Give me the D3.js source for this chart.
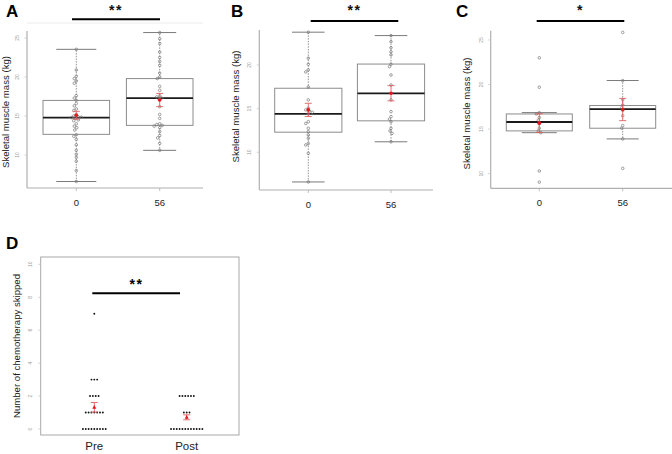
<!DOCTYPE html>
<html><head><meta charset="utf-8">
<script src="https://cdn.jsdelivr.net/npm/d3@7"></script>
<style>
html,body{margin:0;padding:0;background:#fff;}
svg{display:block;font-family:"Liberation Sans",Arial,sans-serif;}
</style></head>
<body><svg id="c" width="672" height="454"></svg>
<script>
// ---------- DATA ----------
const groups = ["0", "56"];
const groupsD = ["Pre", "Post"];

// Panel A
const ptsA0 = [23.55,20.9,20.1,19.8,19.5,19.2,17.6,17.3,17.0,16.6,16.3,15.9,15.7,15.2,15.0,14.9,14.85,14.8,14.7,14.5,14.4,14.0,13.7,13.5,13.2,12.6,12.4,12.0,11.3,10.6,10.1,9.7,9.2,8.0,6.6];
const ptsA56 = [25.7,24.9,24.3,23.2,22.5,22.0,21.5,20.5,20.0,19.8,18.8,18.3,17.6,17.45,17.3,17.1,16.2,15.2,14.7,14.0,13.9,13.8,13.7,13.5,13.0,12.5,12.2,11.5,10.6];
const boxA0 = [6.6, 12.65, 14.8, 17.0, 23.55];
const boxA56 = [10.6, 13.8, 17.3, 19.8, 25.7];
const meanA = [15.1, 17.05];
const semA = [0.5, 0.85];

// Panel B
const ptsB0 = [23.75,20.77,20.08,19.43,19.2,17.48,16.0,15.04,14.85,14.73,14.58,14.4,13.5,13.3,12.75,12.36,11.98,11.6,11.0,10.84,9.88,6.6];
const ptsB56 = [23.36,22.67,21.98,21.5,21.15,20.08,19.8,18.85,17.7,16.0,14.65,14.08,13.8,13.5,12.75,12.44,12.17,11.2];
const boxB0 = [6.6, 12.3, 14.4, 17.33, 23.75];
const boxB56 = [11.2, 13.6, 16.75, 20.1, 23.36];
const meanB = [14.85, 16.76];
const semB = [0.76, 0.87];

// Panel C
const ptsC0 = [23.0,19.7,16.85,16.7,16.3,16.0,15.6,15.1,14.8,14.6,10.3,9.05];
const ptsC56 = [25.85,20.45,18.3,17.7,17.4,17.1,16.5,15.4,15.1,13.9,10.6];
const boxC0 = [14.6, 14.8, 15.8, 16.7, 16.85];
const boxC56 = [13.9, 15.1, 17.25, 17.65, 20.45];
const meanC = [15.67, 17.2];
const semC = [1.05, 1.25];

// Panel D
const ptsPre = [0,0,0,0,0,0,0,0,0,1,1,1,1,1,1,1,2,2,2,2,3,3,3,7];
const ptsPost = [0,0,0,0,0,0,0,0,0,0,0,0,1,1,1,2,2,2,2,2,2];
const meanD = [1.32, 0.71];
const semD = [0.29, 0.15];

const ticksABC = [10, 15, 20, 25];
const ticksD = [0, 2, 4, 6, 8, 10];

// ---------- DRAW ----------
const svg = d3.select("#c");

function swarm(vals, y, cx, r) {
  const sorted = vals.map(v => ({v, y: y(v)})).sort((a, b) => a.y - b.y);
  const placed = [];
  sorted.forEach(p => {
    let k = 0, x = cx;
    while (true) {
      const off = (k % 2 === 0 ? 1 : -1) * Math.ceil(k / 2) * 0.5;
      x = cx + off;
      const ok = placed.every(q => (q.x - x) ** 2 + (q.y - p.y) ** 2 >= (2 * r) ** 2 * 0.9);
      if (ok) break;
      k++;
    }
    p.x = x; placed.push(p);
  });
  return placed;
}

function boxPanel(cfg) {
  const g = svg.append("g");
  const y = d3.scaleLinear().domain(cfg.ydom).range([cfg.bottom, cfg.top]);
  const x = d3.scalePoint().domain(groups).range(cfg.xr);
  g.append("line").attr("x1", cfg.left).attr("x2", cfg.left).attr("y1", cfg.top).attr("y2", cfg.bottom)
    .attr("stroke", "#b0b0b0").attr("stroke-width", 1.2);
  g.append("line").attr("x1", cfg.left).attr("x2", cfg.right).attr("y1", cfg.bottom).attr("y2", cfg.bottom)
    .attr("stroke", "#b0b0b0").attr("stroke-width", 1.2);
  if (cfg.topLine) g.append("line").attr("x1", cfg.left).attr("x2", cfg.right).attr("y1", cfg.topLine).attr("y2", cfg.topLine)
    .attr("stroke", "#ececec").attr("stroke-width", 1);
  const yt = cfg.ticks.filter(t => t >= cfg.ydom[0] && t <= cfg.ydom[1]);
  yt.forEach(t => {
    g.append("line").attr("x1", cfg.left - 2.5).attr("x2", cfg.left).attr("y1", y(t)).attr("y2", y(t))
      .attr("stroke", "#c8c8c8").attr("stroke-width", 0.8);
    g.append("text").attr("transform", `translate(${cfg.left - 8},${y(t)}) rotate(-90)`)
      .attr("text-anchor", "middle").attr("font-size", 5).attr("fill", "#9a9a9a").text(t);
  });
  groups.forEach(gr => {
    g.append("line").attr("x1", x(gr)).attr("x2", x(gr)).attr("y1", cfg.bottom).attr("y2", cfg.bottom + 3)
      .attr("stroke", "#b0b0b0").attr("stroke-width", 0.8);
    g.append("text").attr("x", x(gr)).attr("y", cfg.bottom + 18).attr("text-anchor", "middle")
      .attr("font-size", 9.5).attr("fill", "#222").text(gr);
  });
  g.append("text").attr("transform", `translate(${cfg.ylabX},${cfg.ylabY}) rotate(-90)`)
    .attr("text-anchor", "middle").attr("font-size", 9.6).attr("fill", "#222").text("Skeletal muscle mass (kg)");
  g.append("text").attr("x", cfg.letterX).attr("y", 17).attr("font-size", 17).attr("font-weight", "bold")
    .attr("fill", "#000").text(cfg.letter);
  g.append("line").attr("x1", cfg.sig[0]).attr("x2", cfg.sig[1]).attr("y1", cfg.sigY).attr("y2", cfg.sigY)
    .attr("stroke", "#000").attr("stroke-width", 2);
  g.append("text").attr("x", (cfg.sig[0] + cfg.sig[1]) / 2).attr("y", 15).attr("text-anchor", "middle")
    .attr("font-size", 14).attr("font-weight", "bold").attr("letter-spacing", 1.5).attr("fill", "#111").text(cfg.stars);

  cfg.boxes.forEach((b, i) => {
    const cx = x(groups[i]);
    const hw = cfg.boxHW, cw = cfg.capHW[i];
    g.append("line").attr("x1", cx).attr("x2", cx).attr("y1", y(b[3])).attr("y2", y(b[4]))
      .attr("stroke", "#888").attr("stroke-dasharray", "1.5,1.2").attr("stroke-width", 0.9);
    g.append("line").attr("x1", cx).attr("x2", cx).attr("y1", y(b[1])).attr("y2", y(b[0]))
      .attr("stroke", "#888").attr("stroke-dasharray", "1.5,1.2").attr("stroke-width", 0.9);
    [b[0], b[4]].forEach(v => g.append("line").attr("x1", cx - cw).attr("x2", cx + cw).attr("y1", y(v)).attr("y2", y(v))
      .attr("stroke", "#7a7a7a").attr("stroke-width", 1));
    g.append("rect").attr("x", cx - hw).attr("width", 2 * hw).attr("y", y(b[3])).attr("height", y(b[1]) - y(b[3]))
      .attr("fill", "none").attr("stroke", "#8c8c8c").attr("stroke-width", 1);
    g.append("line").attr("x1", cx - hw).attr("x2", cx + hw).attr("y1", y(b[2])).attr("y2", y(b[2]))
      .attr("stroke", "#1a1a1a").attr("stroke-width", 1.8);
    const pts = swarm(cfg.pts[i], y, cx, 1.5);
    g.selectAll(null).data(pts).enter().append("circle")
      .attr("cx", d => d.x).attr("cy", d => d.y).attr("r", 1.3)
      .attr("fill", "none").attr("stroke", "#777").attr("stroke-width", 0.7);
    const m = cfg.mean[i], s = cfg.sem[i];
    g.append("line").attr("x1", cx).attr("x2", cx).attr("y1", y(m - s)).attr("y2", y(m + s))
      .attr("stroke", "#e06060").attr("stroke-width", 0.9);
    [m - s, m + s].forEach(v => g.append("line").attr("x1", cx - 3.5).attr("x2", cx + 3.5).attr("y1", y(v)).attr("y2", y(v))
      .attr("stroke", "#e06060").attr("stroke-width", 0.9));
    g.append("circle").attr("cx", cx).attr("cy", y(m)).attr("r", 1.8).attr("fill", "#e8161b");
  });
}

boxPanel({
  letter: "A", letterX: 6, stars: "**",
  ydom: [5.77, 25.9], top: 31, bottom: 188, left: 27, right: 203, topLine: 23,
  xr: [76.3, 159.7], boxHW: 33.3, capHW: [20, 16.5],
  ticks: ticksABC, ylabX: 9, ylabY: 112,
  sig: [72, 160], sigY: 19.3,
  boxes: [boxA0, boxA56], pts: [ptsA0, ptsA56], mean: meanA, sem: semA
});
boxPanel({
  letter: "B", letterX: 231, stars: "**",
  ydom: [5.68, 24.0], top: 30, bottom: 190, left: 259.3, right: 433,
  xr: [308.3, 391], boxHW: 33.6, capHW: [16.3, 16.3],
  ticks: ticksABC, ylabX: 238.5, ylabY: 106.5,
  sig: [310.7, 398.3], sigY: 21,
  boxes: [boxB0, boxB56], pts: [ptsB0, ptsB56], mean: meanB, sem: semB
});
boxPanel({
  letter: "C", letterX: 456, stars: "*",
  ydom: [8.36, 26.04], top: 30.7, bottom: 188.3, left: 490.7, right: 672,
  xr: [539.3, 622.7], boxHW: 33, capHW: [17.5, 16],
  ticks: ticksABC, ylabX: 469.5, ylabY: 113.5,
  sig: [536.7, 624.3], sigY: 21,
  boxes: [boxC0, boxC56], pts: [ptsC0, ptsC56], mean: meanC, sem: semC
});

// Panel D
(function () {
  const g = svg.append("g");
  const L = 40.7, R = 239, T = 257, B = 435;
  const y = d3.scaleLinear().domain([0, 10]).range([429, 264.3]);
  const x = d3.scalePoint().domain(groupsD).range([94.3, 186.7]);
  g.append("rect").attr("x", L).attr("y", T).attr("width", R - L).attr("height", B - T)
    .attr("fill", "none").attr("stroke", "#a8a8a8").attr("stroke-width", 1);
  ticksD.forEach(t => {
    g.append("line").attr("x1", L - 2.5).attr("x2", L).attr("y1", y(t)).attr("y2", y(t))
      .attr("stroke", "#c8c8c8").attr("stroke-width", 0.8);
    g.append("text").attr("transform", `translate(${L - 9},${y(t)}) rotate(-90)`)
      .attr("text-anchor", "middle").attr("font-size", 5).attr("fill", "#9a9a9a").text(t);
  });
  groupsD.forEach(gr => g.append("text").attr("x", x(gr)).attr("y", 450).attr("text-anchor", "middle")
    .attr("font-size", 11.5).attr("fill", "#222").text(gr));
  g.append("text").attr("transform", `translate(20,346) rotate(-90)`).attr("text-anchor", "middle")
    .attr("font-size", 9.6).attr("fill", "#222").text("Number of chemotherapy skipped");
  g.append("text").attr("x", 6).attr("y", 249).attr("font-size", 17).attr("font-weight", "bold").text("D");
  g.append("line").attr("x1", 92.3).attr("x2", 180).attr("y1", 293.3).attr("y2", 293.3)
    .attr("stroke", "#000").attr("stroke-width", 2);
  g.append("text").attr("x", 136.5).attr("y", 289).attr("text-anchor", "middle").attr("font-size", 14)
    .attr("font-weight", "bold").attr("letter-spacing", 1.5).text("**");
  [ptsPre, ptsPost].forEach((arr, i) => {
    const cx = x(groupsD[i]);
    const byVal = d3.groups(arr, d => d);
    byVal.forEach(([v, list]) => {
      const n = list.length, sp = 2.85;
      list.forEach((_, j) => {
        g.append("circle").attr("cx", cx + (j - (n - 1) / 2) * sp).attr("cy", y(v)).attr("r", 0.95).attr("fill", "#111");
      });
    });
    const m = meanD[i], s = semD[i];
    g.append("line").attr("x1", cx).attr("x2", cx).attr("y1", y(m - s)).attr("y2", y(m + s))
      .attr("stroke", "#e06060").attr("stroke-width", 0.9);
    [m - s, m + s].forEach(v => g.append("line").attr("x1", cx - 3.5).attr("x2", cx + 3.5).attr("y1", y(v)).attr("y2", y(v))
      .attr("stroke", "#e06060").attr("stroke-width", 0.9));
    const cy = y(m);
    g.append("path").attr("d", `M${cx},${cy - 2.2}L${cx + 2},${cy + 1.4}L${cx - 2},${cy + 1.4}Z`).attr("fill", "#e8161b");
  });
})();
</script></body></html>
